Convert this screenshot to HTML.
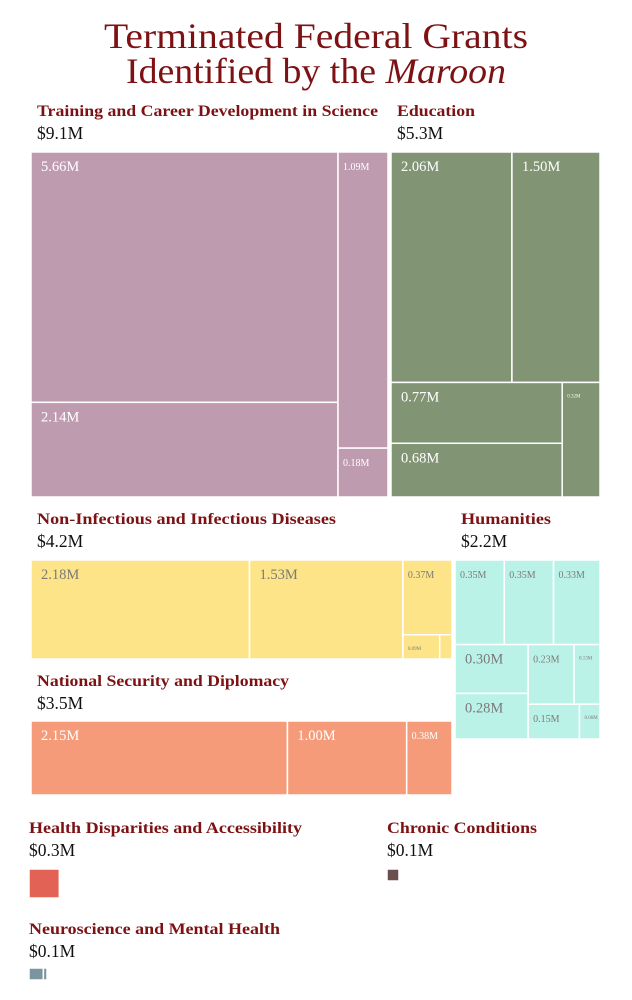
<!DOCTYPE html>
<html><head><meta charset="utf-8"><style>
html,body{margin:0;padding:0;background:#fff;}
svg{display:block;font-family:"Liberation Serif",serif;}
</style></head><body>
<svg id="chart" width="632" height="1000" viewBox="0 0 632 1000" xmlns="http://www.w3.org/2000/svg">
<text x="316" y="48" text-anchor="middle" font-size="36" fill="#7d1214" textLength="424" lengthAdjust="spacingAndGlyphs">Terminated Federal Grants</text>
<text x="316" y="83" text-anchor="middle" font-size="36" fill="#7d1214" textLength="380" lengthAdjust="spacingAndGlyphs">Identified by the <tspan font-style="italic">Maroon</tspan></text>
<g id="groups"></g>
</svg>
<script>
// Category names and totals
const categories = ["Training and Career Development in Science","Education","Non-Infectious and Infectious Diseases","Humanities","National Security and Diplomacy","Health Disparities and Accessibility","Chronic Conditions","Neuroscience and Mental Health"];
const totals = [9.1, 5.3, 4.2, 2.2, 3.5, 0.3, 0.1, 0.1];
// Grant values per category
const trainingValues = [5.66, 2.14, 1.09, 0.18];
const educationValues = [2.06, 1.50, 0.77, 0.68, 0.32];
const diseaseValues = [2.18, 1.53, 0.37, 0.09, 0.03];
const humanitiesValues = [0.35, 0.35, 0.33, 0.30, 0.28, 0.23, 0.13, 0.15, 0.06];
const securityValues = [2.15, 1.00, 0.38];
const disparityValues = [0.29, 0.005];
const chronicValues = [0.1];
const neuroValues = [0.08, 0.02];

const titleWidths = [341, 78, 299, 90, 252, 273, 150, 251];
const NS = "http://www.w3.org/2000/svg";
const root = document.getElementById("groups");
function mk(tag, attrs, parent){const e=document.createElementNS(NS,tag);for(const k in attrs)e.setAttribute(k,attrs[k]);parent.appendChild(e);return e;}
function sum(node, vals){return typeof node==="number"?vals[node]:node.c.reduce((a,n)=>a+sum(n,vals),0);}
function layout(node, vals, x, y, w, h, out){
  if(typeof node==="number"){out.push({i:node,x,y,w,h});return;}
  const tot=sum(node,vals);let p=0;
  node.c.forEach(ch=>{const f=sum(ch,vals)/tot;
    if(node.d==="h"){layout(ch,vals,x+p*w,y,f*w,h,out);}else{layout(ch,vals,x,y+p*h,w,f*h,out);}
    p+=f;});
}
function fmt(v){return v.toFixed(2)+"M";}
function drawGroup(gi, vals, tree, box, color, labColor, title){
  const g=mk("g",{},root);
  
  
  const t=mk("text",{x:title.x,y:title.y,"font-size":15.5,"font-weight":"bold",fill:"#7d1214",textLength:titleWidths[gi],lengthAdjust:"spacingAndGlyphs"},g);
  
  
  t.textContent=categories[gi];
  const a=mk("text",{x:title.x,y:title.y+23,"font-size":17.5,fill:"#111"},g);
  
  
  a.textContent="$"+totals[gi].toFixed(1)+"M";
  const out=[];layout(tree,vals,box[0],box[1],box[2],box[3],out);
  out.forEach(r=>{
    const rc=mk("rect",{x:r.x,y:r.y,width:r.w,height:r.h,fill:color,stroke:"#fff","stroke-width":1.5},g);
    
    
    if(gi>=5) return;
    let fs = r.w>=70?14.5 : r.w>=40?10 : r.w>=20?5 : 0;
    if(r.h<20) fs=0;
    if(fs){
      const t=mk("text",{x:r.x+(fs>=14?10:5),y:r.y+(fs>=14?19:fs>=10?18:15),"font-size":fs,fill:labColor},g);
      
      
      t.textContent=fmt(vals[r.i]);
    }
  });
}
drawGroup(0, trainingValues, {d:"h",c:[{d:"v",c:[0,1]},{d:"v",c:[2,3]}]}, [31,152,357,345], "#bf9bb0", "#fff", {x:37,y:116});
drawGroup(1, educationValues, {d:"v",c:[{d:"h",c:[0,1]},{d:"h",c:[{d:"v",c:[2,3]},4]}]}, [391,152,209,345], "#819474", "#fff", {x:397,y:116});
drawGroup(2, diseaseValues, {d:"h",c:[0,1,{d:"v",c:[2,{d:"h",c:[3,4]}]}]}, [31,560,421,99], "#fde488", "#7a7a7a", {x:37,y:524});
drawGroup(3, humanitiesValues, {d:"v",c:[{d:"h",c:[0,1,2]},{d:"h",c:[{d:"v",c:[3,4]},{d:"v",c:[{d:"h",c:[5,6]},{d:"h",c:[7,8]}]}]}]}, [455,560,145,179], "#bbf2e8", "#7a7a7a", {x:461,y:524});
drawGroup(4, securityValues, {d:"h",c:[0,1,2]}, [31,721,421,74], "#f69b7a", "#fff", {x:37,y:686});
drawGroup(5, disparityValues, {d:"h",c:[0,1]}, [29,869,31,29], "#e26355", "#fff", {x:29,y:833});
drawGroup(6, chronicValues, {d:"h",c:[0]}, [387,869,12,12], "#6b4e4e", "#fff", {x:387,y:833});
drawGroup(7, neuroValues, {d:"h",c:[0,1]}, [29,968,18,12], "#7b959e", "#fff", {x:29,y:934});
</script>
</body></html>
